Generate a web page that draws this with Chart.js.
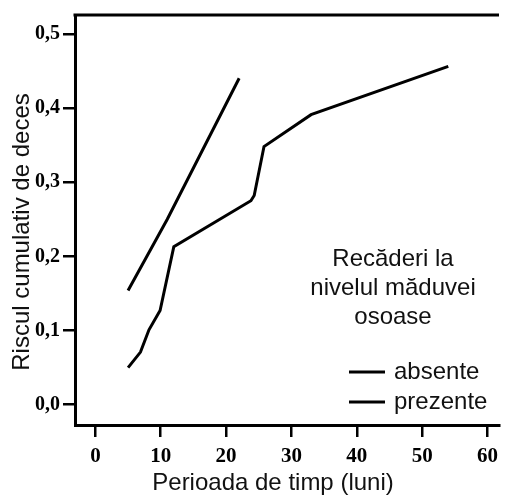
<!DOCTYPE html>
<html>
<head>
<meta charset="utf-8">
<script src="https://cdn.jsdelivr.net/npm/chart.js@4/dist/chart.umd.min.js"></script>
<style>
  html, body { margin: 0; padding: 0; background: #fff; }
  canvas { display: block; }
</style>
</head>
<body>
<canvas id="riscChart" width="505" height="500"></canvas>
<script>
// luni / risc cumulativ
const absenteLuni = [5, 11, 22];
const absenteRisc = [0.154, 0.25, 0.44];
const prezenteLuni = [5, 6.9, 8.2, 9.9, 12, 23.8, 24.3, 25.8, 33, 54];
const prezenteRisc = [0.050, 0.071, 0.101, 0.127, 0.213, 0.275, 0.282, 0.348, 0.391, 0.456];

const xTicks = [0, 10, 20, 30, 40, 50, 60];
const yTicks = [0, 0.1, 0.2, 0.3, 0.4, 0.5];
const yTickLabels = ["0,0", "0,1", "0,2", "0,3", "0,4", "0,5"];

const serie = ["absente", "prezente"];
const titluLegenda = ["Recăderi la", "nivelul măduvei", "osoase"];
const titluX = "Perioada de timp (luni)";
const titluY = "Riscul cumulativ de deces";

const puncte = (xs, ys) => xs.map((x, i) => ({ x: x, y: ys[i] }));

const sans = "'Liberation Sans', Arial, sans-serif";
const serif = "'Liberation Serif', 'Times New Roman', serif";

// titluri de axe, cadrul de sus si legenda desenate manual
const extra = {
  id: "extra",
  afterDraw(chart) {
    const c = chart.ctx;
    const a = chart.chartArea;
    c.save();
    c.strokeStyle = "#000";
    c.lineWidth = 3;
    c.beginPath();
    c.moveTo(a.left - 1.5, a.top);
    c.lineTo(a.right, a.top);
    c.stroke();

    c.fillStyle = "#111";
    c.font = "24px " + sans;
    c.textAlign = "center";
    c.textBaseline = "middle";
    c.fillText(titluX, 273, 483);

    c.save();
    c.translate(22, 232);
    c.rotate(-Math.PI / 2);
    c.fillText(titluY, 0, 0);
    c.restore();

    titluLegenda.forEach((t, i) => c.fillText(t, 393, 259 + i * 29));

    c.textAlign = "left";
    chart.data.datasets.forEach((ds, i) => {
      const y = 372 + i * 30;
      c.strokeStyle = ds.borderColor;
      c.lineWidth = 3;
      c.beginPath();
      c.moveTo(349, y);
      c.lineTo(385, y);
      c.stroke();
      c.fillText(ds.label, 394, y);
    });
    c.restore();
  }
};

new Chart(document.getElementById("riscChart"), {
  type: "scatter",
  data: {
    datasets: [
      {
        label: serie[0],
        data: puncte(absenteLuni, absenteRisc),
        showLine: true,
        borderColor: "#000",
        borderWidth: 3,
        pointRadius: 0,
        tension: 0
      },
      {
        label: serie[1],
        data: puncte(prezenteLuni, prezenteRisc),
        showLine: true,
        borderColor: "#000",
        borderWidth: 3,
        pointRadius: 0,
        tension: 0
      }
    ]
  },
  options: {
    responsive: false,
    animation: false,
    devicePixelRatio: 1,
    layout: { padding: { top: 10, left: 0, right: 0, bottom: 0 } },
    plugins: {
      legend: { display: false },
      tooltip: { enabled: false }
    },
    scales: {
      x: {
        type: "linear",
        min: -3.12,
        max: 61.76,
        afterFit: s => { s.height = 75; },
        afterBuildTicks: s => { s.ticks = xTicks.map(v => ({ value: v })); },
        grid: { drawOnChartArea: false, drawTicks: true, tickLength: 12, color: "#000", lineWidth: 2.5 },
        border: { color: "#000", width: 3 },
        ticks: {
          color: "#000",
          padding: 7,
          maxRotation: 0,
          font: { family: serif, weight: "bold", size: 21 }
        }
      },
      y: {
        type: "linear",
        min: -0.0273,
        max: 0.5253,
        afterFit: s => { s.width = 75; },
        afterBuildTicks: s => { s.ticks = yTicks.map(v => ({ value: v })); },
        grid: { drawOnChartArea: false, drawTicks: true, tickLength: 12, color: "#000", lineWidth: 2.5 },
        border: { color: "#000", width: 3 },
        ticks: {
          color: "#000",
          padding: 3,
          font: { family: serif, weight: "bold", size: 20 },
          callback: v => yTickLabels[yTicks.indexOf(v)]
        }
      }
    }
  },
  plugins: [extra]
});
</script>
</body>
</html>
